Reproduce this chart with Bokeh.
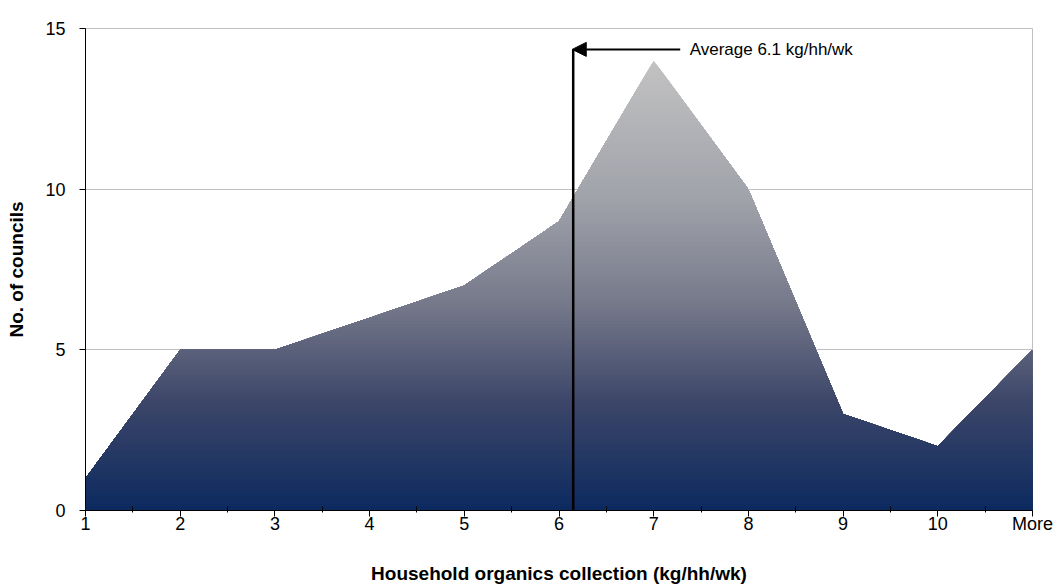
import numpy as np
from bokeh.plotting import figure
from bokeh.models import (Range1d, FixedTicker, Arrow, NormalHead, Label)
from bokeh.embed import file_html
from bokeh.resources import INLINE

# ---- data ----
categories = ["1", "2", "3", "4", "5", "6", "7", "8", "9", "10", "More"]
councils = [1, 5, 5, 6, 7, 9, 14, 10, 3, 2, 5]
y_ticks = [0, 5, 10, 15]
average_value = 6.15          # position of average marker on the category scale
average_text = "Average 6.1 kg/hh/wk"
annot_y = 14.35
arrow_start_x = 7.28
text_x = 7.38

xpos = np.arange(1, len(categories) + 1, dtype=float)
yval = np.array(councils, dtype=float)

p = figure(frame_width=947, frame_height=482, output_backend="svg",
           toolbar_location=None, x_range=Range1d(1, 11), y_range=Range1d(0, 15),
           min_border_left=85, min_border_right=25, min_border_top=28,
           min_border_bottom=76)
p.background_fill_color = "white"
p.border_fill_color = "white"
p.outline_line_color = "#c0c0c0"
p.outline_line_width = 1

# ---- gradient colour stops (fraction of peak height -> rgb) ----
stop_t = [0.0, 0.24, 0.46, 0.69, 1.0]
stop_r = [12, 60, 118, 160, 194]
stop_g = [42, 70, 121, 162, 194]
stop_b = [95, 105, 138, 170, 194]

ymax = yval.max()
N = 140


def region_under(b):
    xs = list(xpos)
    for i in range(len(xpos) - 1):
        y0, y1 = yval[i], yval[i + 1]
        if (y0 - b) * (y1 - b) < 0:
            xs.append(xpos[i] + (b - y0) / (y1 - y0) * (xpos[i + 1] - xpos[i]))
    xs = np.sort(np.array(xs))
    ys = np.minimum(np.interp(xs, xpos, yval), b)
    return xs, ys


for k in range(N - 1, -1, -1):
    b = ymax * (k + 1) / N
    t = (k + 0.5) / N
    rgb = [np.interp(t, stop_t, s) for s in (stop_r, stop_g, stop_b)]
    col = "#%02x%02x%02x" % tuple(int(round(v)) for v in rgb)
    xs, ys = region_under(b)
    p.varea(x=xs, y1=np.zeros_like(xs), y2=ys, fill_color=col, fill_alpha=1.0)

# ---- grid ----
p.xgrid.visible = False
p.ygrid.ticker = FixedTicker(ticks=y_ticks)
p.ygrid.grid_line_color = "#c0c0c0"
p.ygrid.grid_line_width = 1
p.ygrid.level = "underlay"

# ---- axes ----
p.xaxis.ticker = FixedTicker(ticks=list(xpos),
                             minor_ticks=list(xpos[:-1] + 0.5))
overrides = {}
for x, c in zip(xpos, categories):
    overrides[float(x)] = c
    overrides[int(x)] = c
p.xaxis.major_label_overrides = overrides
p.xaxis.major_tick_out = 6
p.xaxis.major_tick_in = 0
p.xaxis.minor_tick_in = 4
p.xaxis.minor_tick_out = 2
p.xaxis.major_label_standoff = -3
p.xaxis.axis_label = "Household organics collection (kg/hh/wk)"
p.xaxis.axis_label_standoff = 26

p.yaxis.ticker = FixedTicker(ticks=y_ticks)
p.yaxis.major_tick_out = 6
p.yaxis.major_tick_in = 0
p.yaxis.minor_tick_out = 0
p.yaxis.minor_tick_in = 0
p.yaxis.major_label_standoff = 14
p.yaxis.axis_label = "No. of councils"
p.yaxis.axis_label_standoff = 15

for ax in (p.xaxis[0], p.yaxis[0]):
    ax.axis_line_color = "black"
    ax.axis_line_width = 1
    ax.major_tick_line_color = "black"
    ax.minor_tick_line_color = "black"
    ax.major_label_text_font = "Liberation Sans"
    ax.major_label_text_font_size = "18px"
    ax.major_label_text_color = "black"
    ax.axis_label_text_font = "Liberation Sans"
    ax.axis_label_text_font_style = "bold"
    ax.axis_label_text_font_size = "19px"
    ax.axis_label_text_color = "black"

# ---- average marker ----
p.segment(x0=[average_value], y0=[0], x1=[average_value], y1=[annot_y],
          line_color="black", line_width=2.5)
p.add_layout(Arrow(end=NormalHead(size=14, fill_color="black", line_color="black"),
                   x_start=arrow_start_x, y_start=annot_y,
                   x_end=average_value - 0.01, y_end=annot_y,
                   line_color="black", line_width=2))
p.add_layout(Label(x=text_x, y=annot_y, text=average_text,
                   text_font="Liberation Sans", text_font_size="17px",
                   text_baseline="middle", text_color="black"))

open("out.html", "w").write(file_html(p, INLINE))
